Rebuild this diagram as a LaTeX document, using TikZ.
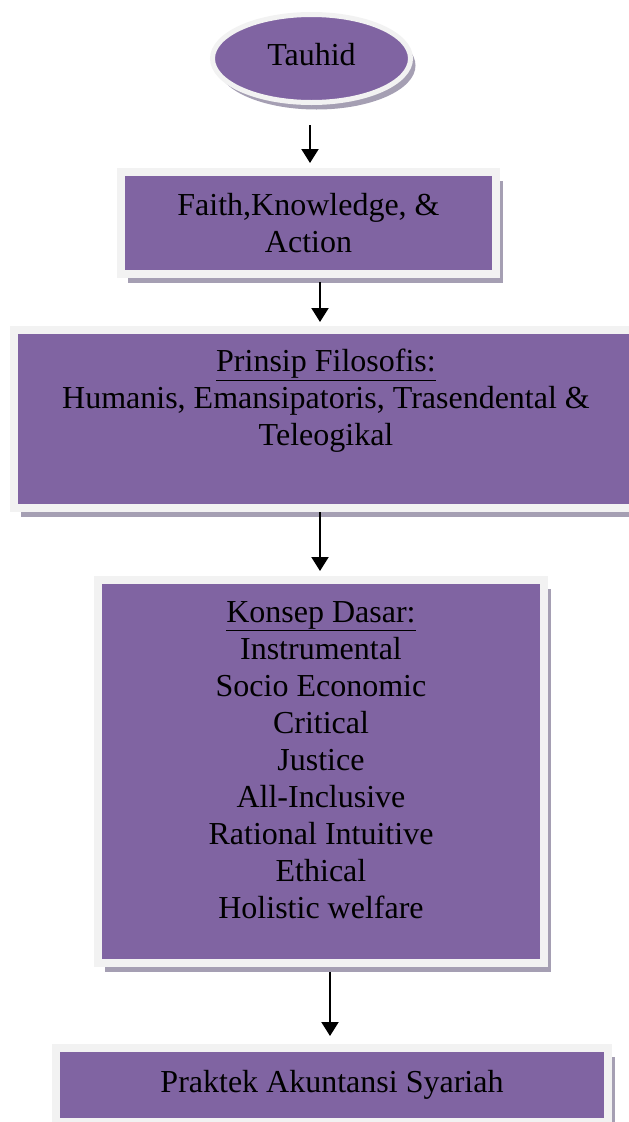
\documentclass[tikz,border=0pt]{standalone}
\usepackage{fontspec}
\setmainfont{Liberation Serif}
\usetikzlibrary{shapes.geometric, arrows.meta, positioning, shadows}
\definecolor{boxpurple}{HTML}{8064A2}
\definecolor{rimgrey}{HTML}{F2F2F2}
\definecolor{shadegrey}{HTML}{A59FB3}
\tikzstyle{panel} = [rectangle, draw=rimgrey, line width=8pt, fill=boxpurple, inner sep=0pt, drop shadow={shadow xshift=7pt, shadow yshift=-9pt, fill=shadegrey, opacity=1}]
\tikzstyle{oval} = [ellipse, draw=rimgrey, line width=5pt, fill=boxpurple, inner sep=0pt, minimum width=198pt, minimum height=88pt, drop shadow={shadow xshift=5pt, shadow yshift=-7pt, fill=shadegrey, opacity=1}]
\tikzstyle{caption} = [text centered, align=center, inner sep=0pt, font=\fontsize{32}{37}\selectfont]
\tikzstyle{arrow} = [line width=2pt, -{Triangle[width=17pt,length=14pt]}]

\begin{document}
\begin{tikzpicture}[x=1pt, y=-1pt]
		\useasboundingbox (0,0) rectangle (629,1122);
		\clip (0,0) rectangle (629,1122);
		\node (tauhid) [oval, caption, text depth=8pt] at (311.5,58.5) {Tauhid};
		\node (faith) [panel, caption, minimum width=375pt, minimum height=102pt] at (308.5,223) {Faith,Knowledge, \&\\Action};
		\node (prinsip) [panel, minimum width=624pt, minimum height=178pt] at (326,419) {};
		\node (prinsiptext) [caption, below=23pt of prinsip.north] {\underline{Prinsip Filosofis:}\\Humanis, Emansipatoris, Trasendental \&\\Teleogikal};
		\node (konsep) [panel, minimum width=446pt, minimum height=383pt] at (321,771.5) {};
		\node (konseptext) [caption, below=25pt of konsep.north] {\underline{Konsep Dasar:}\\Instrumental\\Socio Economic\\Critical\\Justice\\All-Inclusive\\Rational Intuitive\\Ethical\\Holistic welfare};
		\node (praktek) [panel, caption, minimum width=552pt, minimum height=74pt] at (332,1085) {Praktek Akuntansi Syariah};
		\draw [arrow, shorten <=20pt, shorten >=5pt] ([xshift=-1.5pt]tauhid.south) -- ([xshift=-1.5pt]tauhid.south |- faith.north);
		\draw [arrow, shorten <=4pt, shorten >=4pt] ([xshift=11.5pt]faith.south) -- ([xshift=11.5pt]faith.south |- prinsip.north);
		\draw [arrow, shorten >=5pt] ([xshift=-6pt]prinsip.south) -- ([xshift=-6pt]prinsip.south |- konsep.north);
		\draw [arrow, shorten <=5pt, shorten >=8pt] ([xshift=9pt]konsep.south) -- ([xshift=9pt]konsep.south |- praktek.north);
		\end{tikzpicture}
\end{document}
